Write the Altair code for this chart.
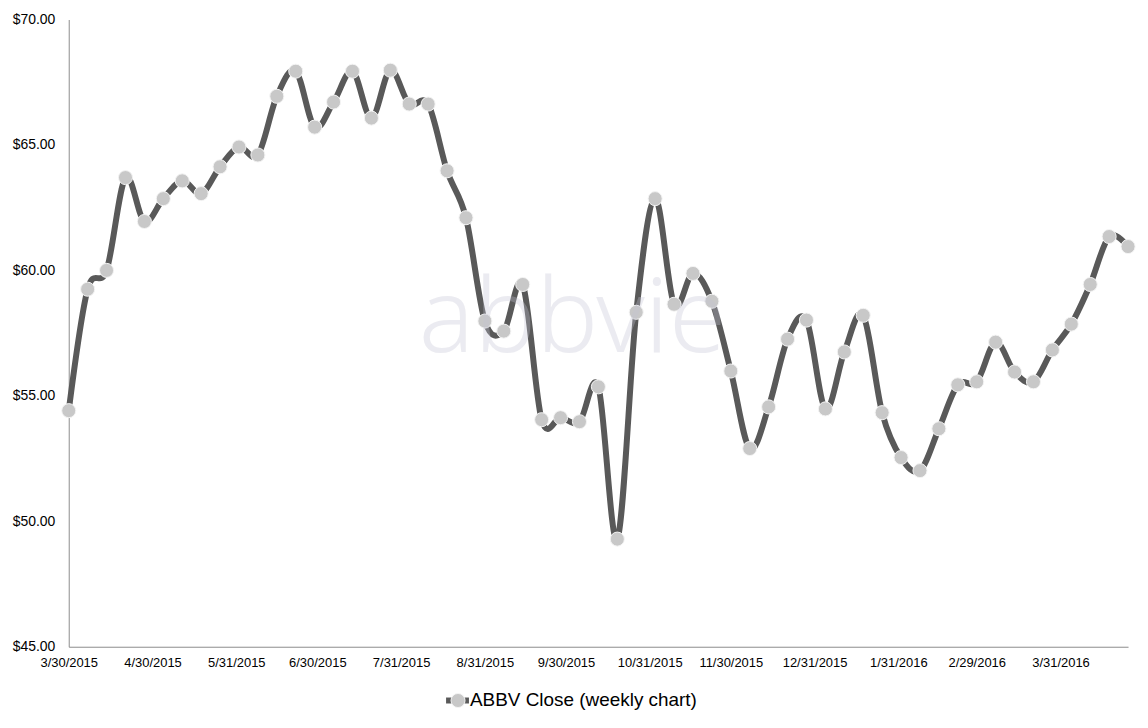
import altair as alt
import pandas as pd

dates = [
    "2015-03-30", "2015-04-06", "2015-04-13", "2015-04-20", "2015-04-27",
    "2015-05-04", "2015-05-11", "2015-05-18", "2015-05-25", "2015-06-01",
    "2015-06-08", "2015-06-15", "2015-06-22", "2015-06-29", "2015-07-06",
    "2015-07-13", "2015-07-20", "2015-07-27", "2015-08-03", "2015-08-10",
    "2015-08-17", "2015-08-24", "2015-08-31", "2015-09-07", "2015-09-14",
    "2015-09-21", "2015-09-28", "2015-10-05", "2015-10-12", "2015-10-19",
    "2015-10-26", "2015-11-02", "2015-11-09", "2015-11-16", "2015-11-23",
    "2015-11-30", "2015-12-07", "2015-12-14", "2015-12-21", "2015-12-28",
    "2016-01-04", "2016-01-11", "2016-01-18", "2016-01-25", "2016-02-01",
    "2016-02-08", "2016-02-15", "2016-02-22", "2016-02-29", "2016-03-07",
    "2016-03-14", "2016-03-21", "2016-03-28", "2016-04-04", "2016-04-11",
    "2016-04-18", "2016-04-25",
]
closes = [
    54.41, 59.25, 60.00, 63.70, 61.95, 62.86, 63.57, 63.06, 64.13, 64.92,
    64.60, 66.94, 67.94, 65.71, 66.71, 67.94, 66.07, 67.98, 66.63, 66.63,
    63.97, 62.10, 57.98, 57.58, 59.44, 54.05, 54.13, 53.97, 55.36, 49.29,
    58.33, 62.86, 58.65, 59.88, 58.77, 55.99, 52.90, 54.56, 57.26, 58.02,
    54.48, 56.75, 58.21, 54.33, 52.54, 52.02, 53.69, 55.44, 55.56, 57.14,
    55.95, 55.56, 56.83, 57.86, 59.44, 61.35, 60.95,
]
tick_dates = [
    (2015, 3, 30), (2015, 4, 30), (2015, 5, 31), (2015, 6, 30), (2015, 7, 31),
    (2015, 8, 31), (2015, 9, 30), (2015, 10, 31), (2015, 11, 30), (2015, 12, 31),
    (2016, 1, 31), (2016, 2, 29), (2016, 3, 31),
]
y_ticks = [45, 50, 55, 60, 65, 70]
series_name = "ABBV Close (weekly chart)"
watermark = "abbvie"

df = pd.DataFrame({"date": [d + "T00:00:00" for d in dates], "close": closes})

x_enc = alt.X(
    "date:T",
    scale=alt.Scale(domain=[alt.DateTime(year=2015, month=3, date=30),
                            alt.DateTime(year=2016, month=4, date=25)]),
    axis=alt.Axis(
        values=[alt.DateTime(year=y, month=m, date=d) for (y, m, d) in tick_dates],
        format="%-m/%-d/%Y", title=None, grid=False, ticks=False,
        labelOverlap=False, labelFlush=False, labelPadding=10,
        labelFont="Liberation Sans", labelFontSize=13, labelColor="#000000",
        domainColor="#8c8c8c", domainWidth=1,
    ),
)
y_enc = alt.Y(
    "close:Q",
    scale=alt.Scale(domain=[45, 70], nice=False, zero=False),
    axis=alt.Axis(
        values=y_ticks, format="$,.2f", title=None, grid=False, ticks=False,
        labelPadding=14, labelFont="Liberation Sans", labelFontSize=14,
        labelColor="#000000", domainColor="#8c8c8c", domainWidth=1,
    ),
)

base = alt.Chart(df)

line = base.mark_line(
    interpolate="cardinal", color="#595959", strokeWidth=6,
).encode(x=x_enc, y=y_enc)

pts = base.mark_point(
    filled=True, shape="circle", size=200, color="#c8c8c8", opacity=1,
    stroke="#f4f4f4", strokeWidth=1,
).encode(x="date:T", y="close:Q")

wm = alt.Chart(pd.DataFrame({"t": [watermark]})).mark_text(
    font="Noto Sans", fontSize=104, fontWeight=300, color="#c4c4d4",
    opacity=0.32, align="center", baseline="alphabetic",
).encode(text="t:N", x=alt.value(506), y=alt.value(334))

leg_df = pd.DataFrame({"t": [series_name]})
leg_line = alt.Chart(leg_df).mark_rule(color="#595959", strokeWidth=6).encode(
    x=alt.value(379), x2=alt.value(402), y=alt.value(684)
)
leg_pt = alt.Chart(leg_df).mark_point(
    filled=True, shape="circle", size=200, color="#c8c8c8", opacity=1,
    stroke="#f4f4f4", strokeWidth=1,
).encode(x=alt.value(391), y=alt.value(684))
leg_text = alt.Chart(leg_df).mark_text(
    font="Liberation Sans", fontSize=19, color="#000000",
    align="left", baseline="middle",
).encode(text="t:N", x=alt.value(403), y=alt.value(684))

chart = alt.layer(line, pts, wm, leg_line, leg_pt, leg_text).properties(
    width=1064, height=630,
    autosize=alt.AutoSizeParams(type="none"),
    padding={"left": 61, "top": 10, "right": 12, "bottom": 70},
).configure_view(stroke=None)

chart.save("out.html", embed_options={"renderer": "svg", "actions": False})
